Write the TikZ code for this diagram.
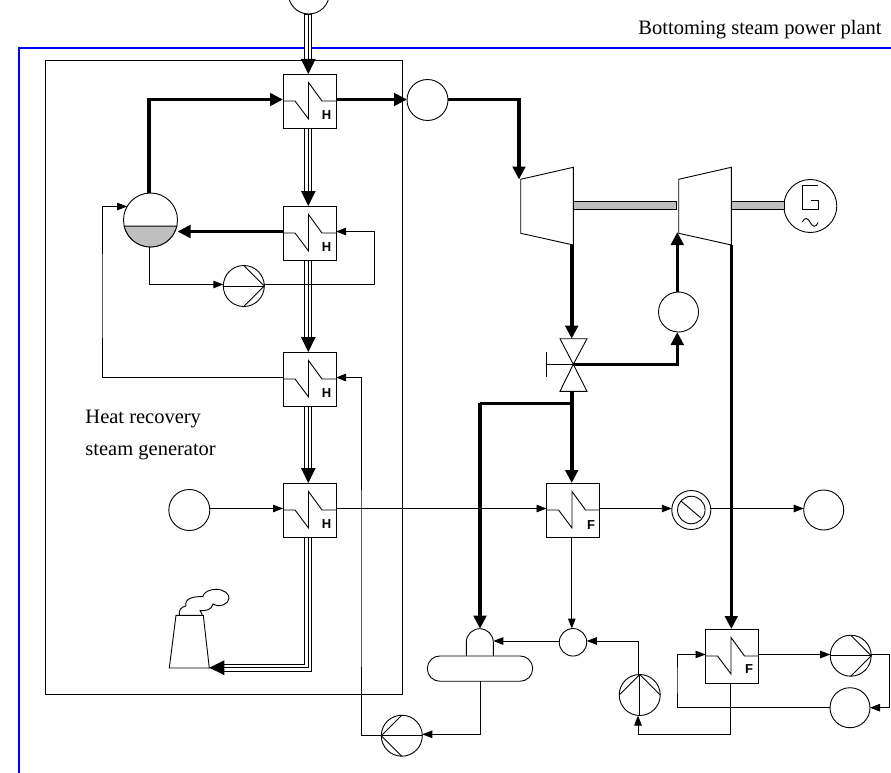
\documentclass[tikz,border=0pt]{standalone}
\usepackage{fontspec}
\setmainfont{Liberation Serif}
\setsansfont{Liberation Sans}
\usetikzlibrary{arrows.meta}
\tikzset{
	unit/.style={draw,circle,inner sep=0pt,outer sep=0pt,line width=.9pt},
	hexbox/.style={draw,rectangle,inner sep=0pt,outer sep=0pt,line width=.9pt,minimum width=53,minimum height=54},
	hexmark/.style={font=\fontsize{13}{13}\sffamily\bfseries,inner sep=0pt},
	caption/.style={font=\fontsize{20.5}{20.5}\selectfont,inner sep=0pt,anchor=west},
	thinflow/.style={line width=.9pt,-{Triangle[length=10pt,width=7.5pt]}},
	thickflow/.style={line width=3.6pt,-{Triangle[length=13pt,width=12.5pt]}},
	plainthick/.style={line width=3.6pt},
	gasflow/.style={line width=.9pt,-{Triangle[length=15pt,width=14.5pt]},
		preaction={draw,line width=8pt,-,shorten >=13pt},
		preaction={draw,white,line width=6pt,-,shorten >=13pt,shorten <=.6pt}},
	shaft/.style={draw,fill=black!25,line width=.9pt},
}
\begin{document}
\begin{tikzpicture}[x=1pt,y=-1pt,line width=.9pt]
	\clip (0,0) rectangle (891,773);
	\draw[blue,line width=1.3pt] (891,48)--(19,48)--(19,773);
	\draw (45,60) rectangle (402,694);
	\node[caption] (title) at (638,29.5) {Bottoming steam power plant};
	\node[caption] (hrsgA) at (85,419) {Heat recovery};
	\node[caption] (hrsgB) at (85,451.5) {steam generator};
	% heat exchangers
	\foreach \n/\x/\y/\l/\lx/\ly in {
		hexA/309.5/101/H/17/14.5,hexB/309.5/233/H/17/14.5,hexC/309.5/379/H/17/14.5,hexD/309.5/510/H/17/14.5,
		hexE/573/510/F/18/15,hexF/732/656/F/17/13}{
		\node[hexbox] (\n) at (\x,\y) {};
		\draw (\x-26.5,\y)--(\x-14.5,\y)--(\x-1,\y+18)--(\x-1,\y-18.5)--(\x+12.5,\y)--(\x+26.5,\y);
		\node[hexmark] (\n-mark) at (\x+\lx,\y+\ly) {\l};
		\coordinate (\n-in) at (\x-26.5,\y-1.5);
		\coordinate (\n-out) at (\x+26.5,\y-1.5);
		\coordinate (\n-top) at (\x-1.2,\y-27);
		\coordinate (\n-bot) at (\x-1.2,\y+27);
	}
	% plain states
	\foreach \n/\x/\y/\d in {
		gasin/308.8/-6.5/41,steamA/427.5/100/41,steamB/678.5/312/40,feed/189.3/510/41,
		cond/823.7/510/40,mixer/573/642.3/27.5,back/850/707.7/40}{
		\node[unit,minimum size=\d] (\n) at (\x,\y) {};
	}
	% pumps
	\foreach \n/\x/\y/\a in {pumpA/243.8/286/0,pumpB/401.8/735.7/180,pumpC/639.7/695/90,pumpD/850.7/655.7/0}{
		\node[unit,minimum size=41] (\n) at (\x,\y) {};
		\begin{scope}[shift={(\x,\y)},rotate=\a]
			\draw (-20.5,0)--(20.5,0);
			\draw (0,-20.5)--(20.5,0)--(0,20.5);
		\end{scope}
	}
	% drum
	\node[unit,minimum size=54] (drum) at (150.5,220) {};
	\fill[black!25] (drum.193) arc[start angle=193,end angle=347,radius=27pt]--cycle;
	\draw (drum.193) arc[start angle=193,end angle=347,radius=27pt]--cycle;
	% sieve ring
	\node[unit,minimum size=39] (ring) at (691.3,510) {};
	\node[unit,minimum size=27.5] (ringin) at (691.3,510) {};
	\draw (681,501)--(700.7,517.7);
	% turbines and generator
	\coordinate (turbA) at (520.7,179.3);
	\coordinate (turbB) at (678.7,179.3);
	\foreach \t in {turbA,turbB}{
		\draw (\t)--++(52.6,-12)--++(0,77.7)--++(-52.6,-11.7)--cycle;
	}
	\node[unit,minimum size=53] (gen) at (810.3,206) {};
	\draw (817.7,185.3)--(802.7,185.3)--(802.7,209.3)--(818,209.3)--(818,200)--(810.5,200);
	\draw (802.3,222) .. controls (805,216.5) and (808,218) .. (810.2,222.5) .. controls (812.5,227) and (816,228) .. (818,222.5);
	\draw[shaft] (573.3,201.7) rectangle (676.7,209.3);
	\draw[shaft] (731.3,201.7) rectangle (784,209.3);
	% valve
	\coordinate (valve) at (573.3,364.3);
	\draw (valve)--(560,338.7)--(587,338.7)--cycle;
	\draw (valve)--(560,391.3)--(587,391.3)--cycle;
	\draw (valve)--(546,364.3);
	\draw (546,352)--(546,377);
	\coordinate (valve-top) at (571.7,338.7);
	\coordinate (valve-bot) at (571.7,391.3);
	\coordinate (valve-r) at (573.3,364.3);
	\coordinate (turbA-bot) at (571.7,245);
	\coordinate (turbB-bot) at (731.3,245);
	\coordinate (turbA-in) at (519,179.5);
	\coordinate (turbB-in) at (677.3,232);
	\coordinate (tee) at (571.7,403.3);
	% deaerator
	\node[draw,rectangle,rounded corners=12.6,minimum width=105.4,minimum height=25.3,inner sep=0pt,outer sep=0pt] (tank) at (480,668.6) {};
	\draw (466.3,656)--(466.3,642.2) arc[start angle=180,end angle=0,radius=13.5pt]--(493.3,656);
	\coordinate (dome-top) at (480,628.7);
	\coordinate (dome-r) at (493.3,641);
	% stack
	\draw (169.3,668)--(209.3,668)--(203.3,615.3)--(176,615.3)--cycle;
	\draw (179.3,615.3) .. controls (178.5,610) and (181,607) .. (186,606)
		.. controls (184,599.5) and (192,596) .. (202.7,596.7)
		.. controls (203.5,592) and (210,589.3) .. (216,589.3)
		.. controls (224,589.3) and (229.5,594) .. (229,598.5)
		.. controls (228.5,604) and (220,608) .. (213,604)
		.. controls (212,610) and (205,611) .. (200,610.7)
		.. controls (201,612) and (202,614) .. (202.3,615.3);
	\coordinate (stack-r) at (209.3,667.7);
	% helpers for the bends
	\coordinate (loopA) at (374.7,260);
	\coordinate (loopB) at (102,300);
	\coordinate (loopC) at (361,600);
	\coordinate (loopD) at (889.3,680);
	\coordinate (loopE) at (677,680);
	\coordinate (loopF) at (480,403.3);
	\coordinate (loopG) at (638,734.3);
	% exhaust gas
	\draw[gasflow] (gasin.south-|hexA-top)--(hexA-top);
	\draw[gasflow] (hexA-bot)--(hexB-top);
	\draw[gasflow] (hexB-bot)--(hexC-top);
	\draw[gasflow] (hexC-bot)--(hexD-top);
	\draw[gasflow] (hexD-bot)|-(stack-r);
	% live steam
	\draw[thickflow] ([xshift=-1.5pt]drum.north)|-(hexA-in);
	\draw[thickflow] (hexB-in)--(drum.east|-hexB-in);
	\draw[thickflow] (hexA-out)--(steamA.west|-hexA-out);
	\draw[thickflow] (steamA.east|-hexA-out)-|(turbA-in);
	\draw[thickflow] (turbA-bot)--(valve-top);
	\draw[thickflow] (valve-r)-|(steamB.south-|turbB-in);
	\draw[thickflow] (steamB.north-|turbB-in)--(turbB-in);
	\draw[thickflow] (valve-bot)--(valve-bot|-hexE-top);
	\draw[plainthick] (tee)--(loopF);
	\draw[thickflow] (loopF)--(dome-top);
	\draw[thickflow] (turbB-bot)--(turbB-bot|-hexF-top);
	% water side
	\draw[thinflow] ([xshift=-1.5pt]drum.south)|-([yshift=1.5pt]pumpA.west);
	\draw[thinflow] ([yshift=1.5pt]pumpA.east)-|(loopA)|-(hexB-out);
	\draw[thinflow] (hexC-in)-|(loopB)|-(drum.150);
	\draw[thinflow] ([yshift=.7pt]pumpB.west)-|(loopC)|-(hexC-out);
	\draw[thinflow] (feed.east|-hexD-in)--(hexD-in);
	\draw[thinflow] (hexD-out)--(hexE-in);
	\draw[thinflow] (hexE-out)--(ring.west|-hexE-out);
	\draw[thinflow] (ring.east|-hexE-out)--(cond.west|-hexE-out);
	\draw[thinflow] (hexE-bot)--(mixer.north-|hexE-bot);
	\draw[thinflow] (mixer.west|-dome-r)--(dome-r);
	\draw[thinflow] ([xshift=-1.7pt]pumpC.north)|-(mixer.east|-dome-r);
	\draw[thinflow] (hexF-bot)|-(loopG)--([xshift=-1.7pt]pumpC.south);
	\draw[thinflow] (hexF-out)--(pumpD.west|-hexF-out);
	\draw[thinflow] (pumpD.east|-hexF-out)-|(loopD)|-(back.east);
	\draw[thinflow] (back.west)-|(loopE)|-(hexF-in);
	\draw[thinflow] (tank.south)|-([yshift=1.4pt]pumpB.east);
\end{tikzpicture}
\end{document}
